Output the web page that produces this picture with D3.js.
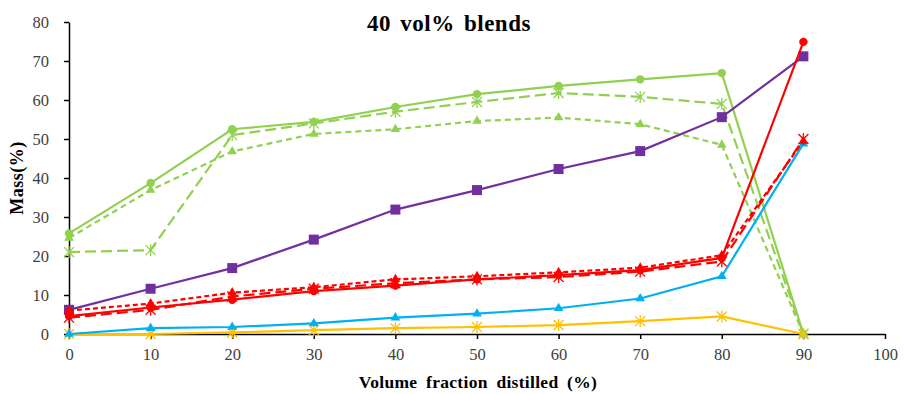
<!DOCTYPE html>
<html><head><meta charset="utf-8">
<script src="https://cdn.jsdelivr.net/npm/d3@7"></script>
<style>html,body{margin:0;padding:0;background:#fff;}svg{display:block;}</style>
</head><body>
<svg id="c" width="904" height="394"></svg>
<script>
const xValues = [0, 10, 20, 30, 40, 50, 60, 70, 80, 90];
const xTicks = [0, 10, 20, 30, 40, 50, 60, 70, 80, 90, 100];
const yTicks = [0, 10, 20, 30, 40, 50, 60, 70, 80];

const greenCircle   = [25.8, 38.7, 52.5, 54.4, 58.2, 61.5, 63.6, 65.3, 66.9, 0];
const greenStar     = [21.0, 21.5, 51.0, 54.0, 57.0, 59.5, 61.8, 60.8, 59.0, 0];
const greenTriangle = [24.6, 36.9, 46.8, 51.3, 52.5, 54.6, 55.5, 53.8, 48.5, 0];
const purpleSquare  = [6.2, 11.6, 16.9, 24.2, 31.9, 36.9, 42.3, 46.9, 55.6, 71.2];
const redCircle     = [4.6, 6.8, 8.8, 11.0, 12.4, 14.0, 15.1, 16.4, 19.5, 74.9];
const redStar       = [4.2, 6.2, 9.6, 11.6, 13.0, 14.0, 14.6, 16.0, 18.6, 50.0];
const redTriangle   = [6.0, 7.8, 10.6, 12.0, 14.0, 14.8, 15.8, 17.0, 20.2, 49.5];
const blueTriangle  = [0.0, 1.5, 1.8, 2.7, 4.2, 5.2, 6.6, 9.1, 14.8, 48.8];
const yellowStar    = [0.0, 0.0, 0.4, 1.0, 1.5, 1.8, 2.3, 3.3, 4.5, 0.0];

const series = [
  {v: greenTriangle, color: "#92D050", dash: "6,4", marker: "triangle"},
  {v: greenStar, color: "#92D050", dash: "11,5", marker: "star"},
  {v: greenCircle, color: "#92D050", dash: null, marker: "circle"},
  {v: yellowStar, color: "#FFC000", dash: null, marker: "star"},
  {v: blueTriangle, color: "#00B0F0", dash: null, marker: "triangle"},
  {v: purpleSquare, color: "#7030A0", dash: null, marker: "square"},
  {v: redStar, color: "#FF0000", dash: "11,5", marker: "star"},
  {v: redTriangle, color: "#FF0000", dash: "5,3", marker: "triangle"},
  {v: redCircle, color: "#FF0000", dash: null, marker: "circle"}
];

const svg = d3.select("#c");
const x = d3.scaleLinear().domain([0, 100]).range([69, 885]);
const y = d3.scaleLinear().domain([0, 80]).range([334, 22]);

// axes
const xAxis = svg.append("g").attr("transform", "translate(0,334)")
  .call(d3.axisBottom(x).tickValues(xTicks).tickSize(5).tickSizeOuter(0).tickPadding(9));
const yAxis = svg.append("g").attr("transform", "translate(69,0)")
  .call(d3.axisLeft(y).tickValues(yTicks).tickSize(5).tickSizeOuter(0).tickPadding(15));
[xAxis, yAxis].forEach(g => {
  g.select(".domain").attr("stroke", "#000").attr("stroke-width", 1.5);
  g.selectAll(".tick line").attr("stroke", "#000").attr("stroke-width", 1.5);
  g.selectAll(".tick text").attr("fill", "#404040")
    .style("font-family", "'Liberation Serif', 'DejaVu Serif', serif").style("font-size", "16.5px");
});

const line = d3.line().x((d, i) => x(xValues[i])).y(d => y(d));

series.forEach(s => {
  svg.append("path").datum(s.v)
    .attr("d", line).attr("fill", "none").attr("stroke", s.color)
    .attr("stroke-width", 2.2).attr("stroke-dasharray", s.dash);
  const g = svg.append("g");
  s.v.forEach((d, i) => {
    const cx = x(xValues[i]), cy = y(d);
    if (s.marker === "circle") {
      g.append("circle").attr("cx", cx).attr("cy", cy).attr("r", 4.2).attr("fill", s.color);
    } else if (s.marker === "square") {
      g.append("rect").attr("x", cx - 5).attr("y", cy - 5).attr("width", 10).attr("height", 10).attr("fill", s.color);
    } else if (s.marker === "triangle") {
      g.append("path").attr("d", d3.symbol(d3.symbolTriangle, 40)()).attr("transform", `translate(${cx},${cy})`).attr("fill", s.color);
    } else if (s.marker === "star") {
      const r = 5;
      g.append("path").attr("d",
        `M${cx - r},${cy - r}L${cx + r},${cy + r}M${cx - r},${cy + r}L${cx + r},${cy - r}M${cx},${cy - r - 1}L${cx},${cy + r + 1}`)
        .attr("stroke", s.color).attr("stroke-width", 1.3).attr("fill", "none");
    }
  });
});

// texts
svg.append("text").attr("x", 449).attr("y", 31).attr("text-anchor", "middle")
  .style("font-family", "'Liberation Serif', serif").style("font-weight", "bold").style("font-size", "23px")
  .style("word-spacing", "3px").style("letter-spacing", "0.5px")
  .text("40 vol% blends");
svg.append("text").attr("x", 478).attr("y", 388).attr("text-anchor", "middle")
  .style("font-family", "'Liberation Serif', serif").style("font-weight", "bold").style("font-size", "17.5px")
  .style("word-spacing", "4px").style("letter-spacing", "0.3px")
  .text("Volume fraction distilled (%)");
svg.append("text").attr("transform", "translate(23,178) rotate(-90)").attr("text-anchor", "middle")
  .style("font-family", "'Liberation Serif', serif").style("font-weight", "bold").style("font-size", "18px")
  .style("letter-spacing", "0.5px")
  .text("Mass(%)");
</script>
</body></html>
